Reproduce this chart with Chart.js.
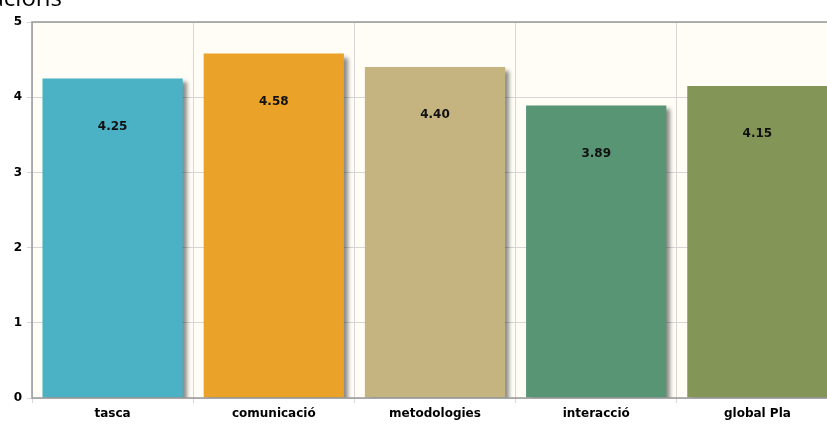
<!DOCTYPE html>
<html lang="ca">
<head>
<meta charset="UTF-8">
<title>Valoracions</title>
<script src="https://cdn.jsdelivr.net/npm/chart.js"></script>
<style>
  html, body { margin: 0; padding: 0; background: #fff; overflow: hidden; }
  #wrap { position: relative; width: 842px; height: 424px; }
</style>
</head>
<body>
<div id="wrap"><canvas id="chart"></canvas></div>
<script>
const categories = ['tasca', 'comunicació', 'metodologies', 'interacció', 'global Pla'];
const values = [4.25, 4.58, 4.40, 3.89, 4.15];
const barColors = ['#4bb2c5', '#eaa228', '#c5b47f', '#579575', '#839557'];
const yTicks = [0, 1, 2, 3, 4, 5];
const titleText = 'Valoracions';

const shadowPlugin = {
  id: 'barShadow',
  beforeDatasetsDraw(chart) {
    const ctx = chart.ctx, a = chart.chartArea;
    ctx.save();
    ctx.beginPath();
    ctx.rect(a.left, a.top, a.right - a.left, a.bottom - a.top);
    ctx.clip();
    ctx.shadowColor = 'rgba(0,0,0,0.45)';
    ctx.shadowOffsetX = 4;
    ctx.shadowOffsetY = 4;
    ctx.shadowBlur = 4;
  },
  afterDatasetsDraw(chart) {
    chart.ctx.restore();
  }
};

const frameAndLabels = {
  id: 'frameAndLabels',
  beforeDraw(chart) {
    const ctx = chart.ctx, a = chart.chartArea;
    ctx.save();
    ctx.fillStyle = '#fffdf6';
    ctx.fillRect(a.left, a.top, a.right - a.left, a.bottom - a.top);
    ctx.restore();
  },
  afterDraw(chart) {
    const ctx = chart.ctx, a = chart.chartArea;
    ctx.save();
    ctx.strokeStyle = '#999999';
    ctx.lineWidth = 1.5;
    ctx.strokeRect(a.left, a.top, a.right - a.left, a.bottom - a.top);

    // value labels inside bars
    const meta = chart.getDatasetMeta(0);
    ctx.fillStyle = '#111';
    ctx.font = 'bold 12px "DejaVu Sans"';
    ctx.textAlign = 'center';
    ctx.textBaseline = 'middle';
    meta.data.forEach((bar, i) => {
      ctx.fillText(values[i].toFixed(2), bar.x, bar.y + 48);
    });

    // title, cut off at the top of the page
    ctx.fillStyle = '#000';
    ctx.font = '24px "Open Sans"';
    ctx.textAlign = 'right';
    ctx.textBaseline = 'alphabetic';
    ctx.fillText(titleText, 62, 6);
    ctx.restore();
  }
};

new Chart(document.getElementById('chart'), {
  type: 'bar',
  data: {
    labels: categories,
    datasets: [{
      data: values,
      backgroundColor: barColors,
      borderWidth: 0,
      barPercentage: 0.87,
      categoryPercentage: 1.0
    }]
  },
  options: {
    responsive: true,
    maintainAspectRatio: false,
    animation: false,
    layout: { padding: { top: 22, right: 4, left: 0, bottom: 0 } },
    plugins: {
      legend: { display: false },
      tooltip: { enabled: false }
    },
    scales: {
      x: {
        grid: { color: '#d6d6d6', lineWidth: 1, tickLength: 5, offset: true },
        border: { display: false },
        ticks: {
          color: '#000',
          font: { family: 'DejaVu Sans', size: 12, weight: 'bold' },
          padding: 4
        },
        afterFit(scale) { scale.height = 26; }
      },
      y: {
        min: 0,
        max: 5,
        afterBuildTicks(scale) { scale.ticks = yTicks.map(v => ({ value: v })); },
        grid: { color: '#d6d6d6', lineWidth: 1, tickLength: 5 },
        border: { display: false },
        ticks: {
          color: '#000',
          font: { family: 'DejaVu Sans', size: 12, weight: 'bold' },
          padding: 5
        },
        afterFit(scale) { scale.width = 32; }
      }
    }
  },
  plugins: [frameAndLabels, shadowPlugin]
});
</script>
</body>
</html>
